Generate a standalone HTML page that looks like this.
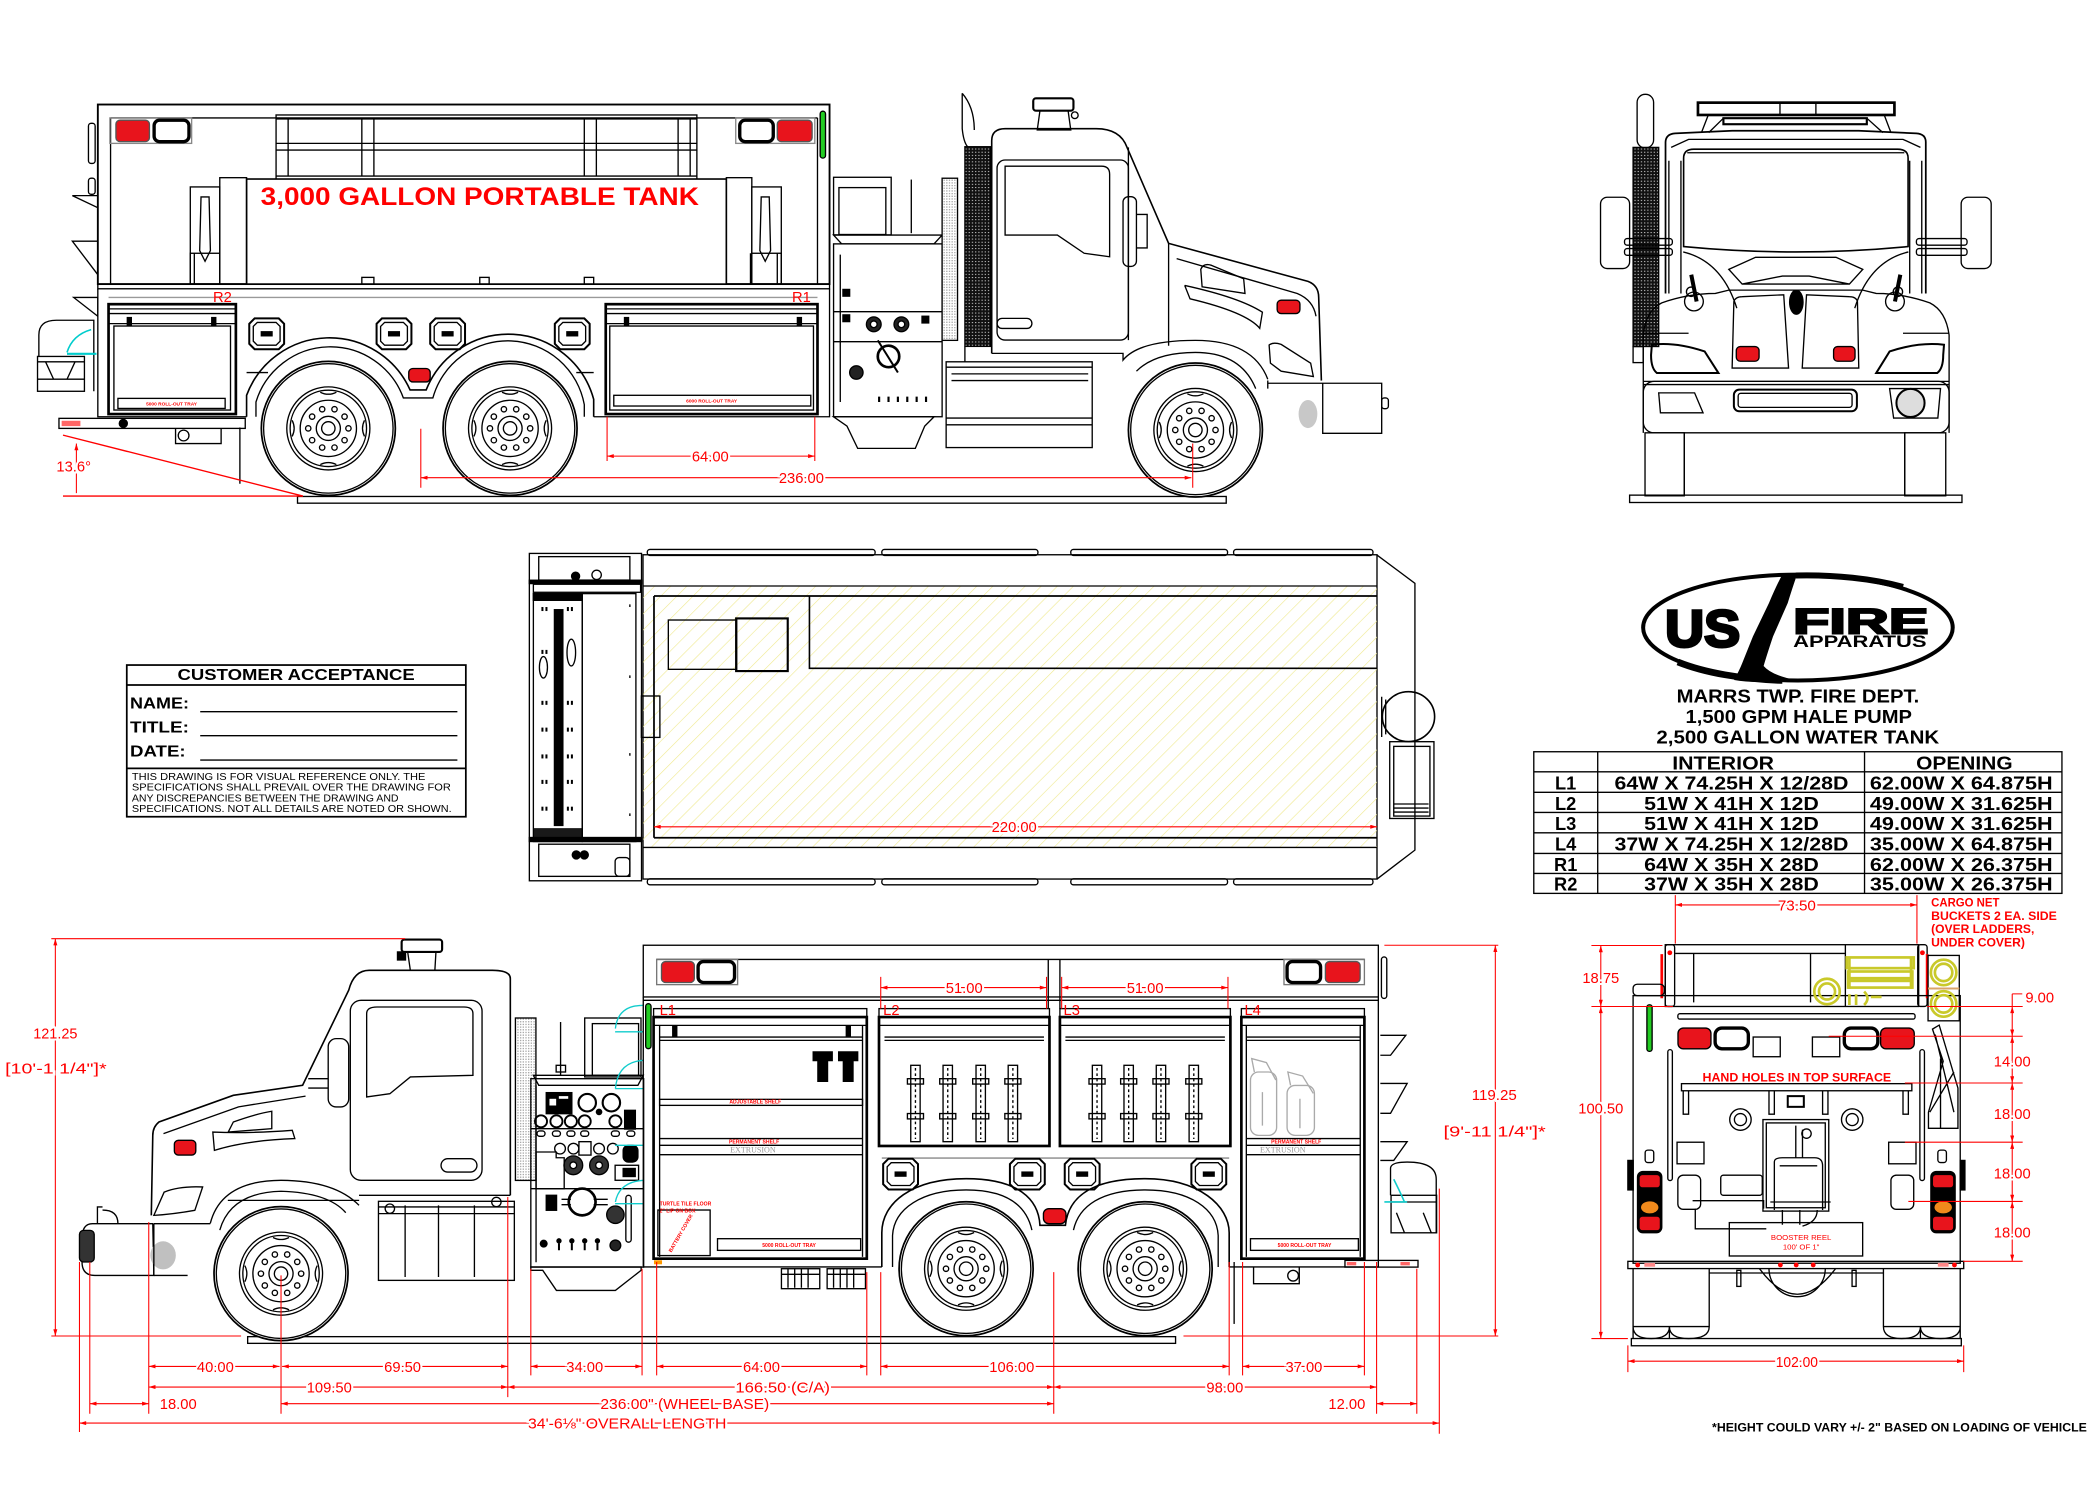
<!DOCTYPE html>
<html><head><meta charset="utf-8"><title>US Fire Apparatus - Marrs Twp. Fire Dept.</title>
<style>
html,body{margin:0;padding:0;background:#fff;width:2100px;height:1500px;overflow:hidden}
svg{display:block}
text{font-family:"Liberation Sans",Arial,sans-serif}
.k{fill:none;stroke:#000;stroke-width:1}
.r{fill:none;stroke:#f00;stroke-width:.8}
.d{fill:#f00;stroke:#fff;stroke-width:3px;paint-order:stroke;font-size:11px;text-anchor:middle}
.ds{fill:#f00;stroke:none;font-size:11px;text-anchor:middle}
.tb{font-weight:bold;fill:#000;stroke:none}
</style></head><body>
<svg width="2100" height="1500" viewBox="0 0 1567 1119.4" preserveAspectRatio="none" xmlns="http://www.w3.org/2000/svg">
<defs>
<marker id="a" viewBox="0 0 10 6" refX="10" refY="3" markerWidth="6" markerHeight="3" markerUnits="userSpaceOnUse" orient="auto-start-reverse"><path d="M0,0 L10,3 L0,6 z" fill="#f00"/></marker>
<pattern id="hatch" width="8.5" height="8.5" patternUnits="userSpaceOnUse" patternTransform="rotate(45)"><line x1="0" y1="0" x2="0" y2="8.5" stroke="#efe98f" stroke-width="0.9"/></pattern>
<pattern id="grill" width="2.4" height="2.4" patternUnits="userSpaceOnUse"><rect width="2.4" height="2.4" fill="#111"/><rect x="0.4" y="0.5" width="0.9" height="0.6" fill="#fff"/></pattern>
<pattern id="lt" width="2" height="2" patternUnits="userSpaceOnUse"><rect width="2" height="2" fill="#fff"/><rect width="1" height="1" fill="#aaa"/></pattern>
<g id="wh" class="k">
<circle r="50" fill="#fff" stroke-width="1.3"/><circle r="48.3"/>
<circle r="31"/><circle r="28.5"/><circle r="21"/>
<circle cx="15" cy="0" r="2"/><circle cx="12.1" cy="8.8" r="2"/><circle cx="4.6" cy="14.3" r="2"/><circle cx="-4.6" cy="14.3" r="2"/><circle cx="-12.1" cy="8.8" r="2"/><circle cx="-15" cy="0" r="2"/><circle cx="-12.1" cy="-8.8" r="2"/><circle cx="-4.6" cy="-14.3" r="2"/><circle cx="4.6" cy="-14.3" r="2"/><circle cx="12.1" cy="-8.8" r="2"/>
<circle r="9"/><circle r="5"/>
<path d="M-6,-27 Q0,-24 6,-27 M-6,27 Q0,24 6,27 M-27,-6 Q-24,0 -27,6 M27,-6 Q24,0 27,6"/>
</g>
<g id="hh" class="k">
<path d="M4,0 H22 L26,4 V19 L22,23 H4 L0,19 V4 Z" stroke-width="1.5" fill="#fff"/>
<path d="M6,3 H20 L23,6 V17 L20,20 H6 L3,17 V6 Z"/>
<rect x="9" y="10" width="8" height="3" fill="#000"/>
</g>
<g id="tool" class="k">
<rect x="-3.5" y="0" width="7" height="57"/>
<rect x="-6" y="10" width="12" height="4"/><rect x="-6" y="36" width="12" height="4"/>
<line x1="0" y1="2" x2="0" y2="55" stroke-dasharray="2 2"/>
</g>
</defs>

<!-- ===================== TOP SIDE VIEW (right side) ===================== -->
<g class="k">
<rect x="222" y="370.5" width="693" height="5"/>
<rect x="73" y="78" width="546" height="134" stroke-width="1.4"/>
<line x1="82.5" y1="88" x2="610" y2="88"/>
<line x1="82.5" y1="88" x2="82.5" y2="212"/>
<line x1="610" y1="88" x2="610" y2="212"/>
<rect x="73" y="212" width="546" height="3.5"/>
<rect x="66" y="92" width="5" height="30" rx="2"/><rect x="66" y="133" width="5" height="12" rx="2"/>
<path d="M54,146 H73 V155 Z"/><path d="M54,180 H73 V205 Z"/><path d="M55,222 H73 V236 Z"/>
<rect x="82" y="88" width="61" height="19" stroke="#888"/>
<rect x="86.5" y="89.7" width="25" height="16" rx="3" fill="#e8141c" stroke="#555"/>
<rect x="115" y="89.7" width="26" height="16" rx="4" stroke-width="2.5"/>
<rect x="549" y="88" width="59" height="19" stroke="#888"/>
<rect x="552" y="89.7" width="25" height="16" rx="4" stroke-width="2.5"/>
<rect x="580" y="89.7" width="26" height="16" rx="3" fill="#e8141c" stroke="#555"/>
<rect x="612" y="83" width="4" height="35" rx="2" fill="#2c2"/>
<rect x="206" y="85.8" width="314" height="48.5"/>
<path d="M206,88.8 H520 M206,107 H520 M206,112 H520 M206,131.4 H520"/>
<path d="M215,88.8 V131.4 M270,88.8 V131.4 M279,88.8 V131.4 M436,88.8 V131.4 M445,88.8 V131.4 M506,88.8 V131.4 M515,88.8 V131.4"/>
<rect x="184" y="133.6" width="358" height="78.4" stroke-width="1.2" fill="#fff"/>
<rect x="164" y="132.6" width="20" height="79.4"/><rect x="142" y="139.5" width="22" height="72.5"/>
<rect x="542" y="132.6" width="19" height="79.4"/><rect x="561" y="139.5" width="22" height="72.5"/>
<path d="M150,147 h6 l1,40 l-4,8 l-4,-8 z M568,147 h6 l1,40 l-4,8 l-4,-8 z"/>
<rect x="142" y="189" width="22" height="23"/><rect x="561" y="189" width="22" height="23"/>
<path d="M145,189 V212 M560,189 V212 M580,189 V212"/>
<rect x="270" y="207" width="9" height="5"/><rect x="358" y="207" width="7" height="5"/><rect x="436" y="207" width="7" height="5"/>
<path d="M73,215.5 V311 H184 M443,311 H619 V215.5"/>
<line x1="81" y1="222" x2="610" y2="222" stroke="#999"/>
<rect x="81" y="227" width="95" height="82" stroke-width="2"/>
<path d="M81,230.5 H176 M81,234 H176 M81,241.5 H176" />
<rect x="85" y="243.3" width="87" height="62.7"/>
<rect x="88" y="297.3" width="80" height="7.5"/>
<rect x="95" y="237" width="3" height="6" fill="#000"/><rect x="158" y="237" width="3" height="6" fill="#000"/>
<rect x="452" y="227" width="158" height="82" stroke-width="2"/>
<path d="M452,230.5 H610 M452,234 H610 M452,241.5 H610"/>
<rect x="455" y="243.3" width="152" height="62.7"/>
<rect x="458" y="295" width="147" height="8"/>
<rect x="466" y="237" width="3" height="6" fill="#000"/><rect x="595" y="237" width="3" height="6" fill="#000"/>
<use href="#hh" x="186" y="237.6"/><use href="#hh" x="281" y="237.6"/><use href="#hh" x="321" y="237.6"/><use href="#hh" x="414" y="237.6"/>
<path d="M184,311 V295 A66,66 0 0 1 306,291 H318 A66,66 0 0 1 443,298 V311" stroke-width="1.2"/>
<path d="M191,311 V300 A58,58 0 0 1 301,297 H323 A58,58 0 0 1 436,302 V311"/>
<path d="M184,278 H200 M430,278 H443"/>
<rect x="305" y="275" width="16" height="10" rx="3" fill="#e8141c"/>
<rect x="44" y="312.2" width="139" height="7.5"/>
<rect x="46" y="314" width="14" height="4" fill="#f66" stroke="none"/>
<circle cx="92" cy="316" r="3" fill="#000"/>
<path d="M131,319.7 V331 H165 V319.7"/><circle cx="137" cy="325" r="4"/>
<line x1="179" y1="319" x2="179" y2="361"/>
<path d="M29,266 V250 Q29,239 42,239 H70 V292"/>
<rect x="28" y="266" width="35" height="26"/>
<path d="M28,270 H63 M28,283 H63 M34,270 L40,283 M50,283 L56,270"/>
<path d="M50,263 Q54,250 68,246" stroke="#0cc" stroke-width="1.2"/>
<line x1="50" y1="264" x2="72" y2="264" stroke="#0cc" stroke-width="1.6"/>
<rect x="622" y="132.3" width="43" height="43"/>
<rect x="626" y="140" width="35" height="35"/>
<line x1="680" y1="134" x2="680" y2="174"/>
<path d="M622,175.4 H703 L697,182 H628 Z"/>
<rect x="622" y="182" width="81" height="129"/>
<path d="M622,232.6 H703 M622,255 H703 M627,190 V300"/>
<rect x="629" y="216" width="5" height="5" fill="#000"/><rect x="629" y="235" width="5" height="5" fill="#000"/>
<circle cx="652" cy="242" r="5.5" fill="#222"/><circle cx="652" cy="242" r="2.5" fill="#fff"/>
<circle cx="672.6" cy="242" r="5.5" fill="#222"/><circle cx="672.6" cy="242" r="2.5" fill="#fff"/>
<rect x="688" y="236" width="5" height="5" fill="#000"/>
<circle cx="663" cy="266" r="8" stroke-width="2"/><line x1="655" y1="254" x2="670" y2="278" stroke-width="1.5"/>
<circle cx="639" cy="278" r="5" fill="#222"/>
<path d="M656,296 v4 M663,296 v4 M670,296 v4 M677,296 v4 M684,296 v4 M691,296 v4" stroke-width="1.6"/>
<path d="M622,311 H697 L690,318 L683,334.6 H640 L632,318 Z"/>
<rect x="703" y="133" width="11.5" height="121" fill="url(#lt)"/>
<rect x="720" y="109.5" width="19" height="149" fill="url(#grill)"/>
<path d="M718,69.6 L718,96 Q719,106 722,109.5 M718,69.6 Q727,80 727,97"/>
<line x1="720" y1="258.7" x2="720" y2="270"/>
<path d="M740,263.7 V105 Q740,96 750,96 H818 Q836,96 841,110 L872,181.6 L976,210 Q984,213 984,222 L986,284" stroke-width="1.2"/>
<path d="M842,110 V253.8 M872,181.6 V258"/>
<path d="M878,193 L968,219 Q980,224 982,236"/>
<rect x="744" y="119.4" width="98" height="134.4" rx="6"/>
<path d="M750,124 H822 Q828,124 828,130 V191.6 L809,189 L789,175.4 H750 Z"/>
<rect x="838" y="146.8" width="10" height="52" rx="4"/><path d="M848,160 H856 V185 H848"/>
<rect x="744" y="237.6" width="26" height="7.5" rx="3.7"/>
<path d="M896,201 Q898,196 904,198 L928,208 L929,219 L897,214 Z"/>
<path d="M884,213 L888,223 Q930,233 940,245 L942,233 Q925,222 884,213"/>
<rect x="953" y="224" width="17" height="10" rx="3" fill="#e8141c"/>
<path d="M947,257.5 Q950,255 956,257 L978,271 L980,281 L956,277 L948,271 Z"/>
<path d="M740,263.7 H838 V268.7 Q850,254 892,254 Q935,254 946,283"/>
<path d="M848,277 Q862,263 892,263 Q926,263 937,290"/>
<rect x="706" y="270" width="109" height="64"/>
<path d="M706,274 H815 M710,279 H812 M710,284 H812 M706,312 H815 M706,317 H815"/>
<path d="M946,284 V290 M946,286 H1031 V323.4 H987 V286"/>
<rect x="1031" y="297" width="5" height="8" rx="2"/>
<ellipse cx="976" cy="309" rx="7" ry="10.5" fill="#c8c8c8" stroke="none"/>
<rect x="771" y="73.4" width="30" height="9.2" rx="2" stroke-width="1.6"/>
<path d="M776,82.6 H797 L799,97 H774 Z"/><circle cx="802" cy="86" r="2.5"/>
</g>
<use href="#wh" x="245" y="319.7"/>
<use href="#wh" x="380.6" y="319.7"/>
<use href="#wh" x="892" y="320.9"/>
<text x="358" y="153" font-size="18.5" font-weight="bold" fill="#f00" text-anchor="middle" textLength="327" lengthAdjust="spacingAndGlyphs">3,000 GALLON PORTABLE TANK</text>
<text x="166" y="225.2" fill="#f00" font-size="11" text-anchor="middle">R2</text>
<text x="598" y="225.2" fill="#f00" font-size="11" text-anchor="middle">R1</text>
<text x="128" y="302.5" fill="#f00" font-size="3.6" font-weight="bold" text-anchor="middle">5000 ROLL-OUT TRAY</text>
<text x="531" y="300.5" fill="#f00" font-size="3.6" font-weight="bold" text-anchor="middle">6000 ROLL-OUT TRAY</text>
<g class="r">
<line x1="47" y1="324.7" x2="226" y2="370.2" stroke-width="1"/>
<line x1="47" y1="370.2" x2="226" y2="370.2" stroke-width="1"/>
<line x1="57" y1="331" x2="57" y2="368" marker-start="url(#a)"/>
<path d="M453,311 V344 M608,311 V344 M314,320 V364 M890,331 V364"/>
<line x1="453" y1="340.4" x2="608" y2="340.4" marker-start="url(#a)" marker-end="url(#a)"/>
<line x1="314" y1="356.5" x2="889" y2="356.5" marker-start="url(#a)" marker-end="url(#a)"/>
</g>
<text class="d" x="55" y="352" font-size="10">13.6°</text>
<text class="d" x="530" y="344.4">64.00</text>
<text class="d" x="598" y="360.5">236.00</text>

<!-- ===================== FRONT VIEW ===================== -->
<g class="k">
<rect x="1216" y="369.5" width="248" height="5.5"/>
<rect x="1267" y="76.6" width="146.6" height="9.2" stroke-width="2"/>
<path d="M1328.2,76.6 V85.8 M1355,76.6 V85.8"/>
<rect x="1286" y="88.2" width="107" height="4.5" stroke-width="1.6"/>
<path d="M1274.7,85.8 L1269.6,99 M1286,88.2 L1275,99 M1406,85.8 L1411,99 M1393,88.2 L1405,99"/>
<path d="M1242.8,219 V106 Q1243,100 1250,99.5 L1292.5,97.6 H1387 L1430,99.5 Q1437,100 1437,106 V219" stroke-width="1.3"/>
<path d="M1247,110 L1260,104 H1420 L1433,110"/>
<path d="M1256.3,184 V118 Q1256.3,111.3 1264,111.3 H1416 Q1423.8,111.3 1423.8,118 V184 Q1340,192 1256.3,184 Z" stroke-width="1.2"/>
<path d="M1259,114 H1421"/>
<path d="M1245.3,120 V219 M1254.3,120 V219 M1425,120 V219 M1434,120 V219"/>
<rect x="1221.6" y="70.4" width="12.3" height="40" rx="6"/>
<rect x="1218.6" y="110" width="19.1" height="148.6" fill="url(#grill)"/>
<rect x="1218.6" y="258.6" width="7.5" height="12"/>
<rect x="1194.3" y="147.2" width="21.7" height="53.2" rx="5"/>
<rect x="1463.4" y="147.2" width="22.4" height="53.2" rx="5"/>
<rect x="1212.2" y="178" width="35.7" height="5" rx="2"/><rect x="1212.2" y="185.5" width="35.7" height="5" rx="2"/>
<rect x="1430" y="178" width="37.8" height="5" rx="2"/><rect x="1430" y="185.5" width="37.8" height="5" rx="2"/>
<path d="M1226.2,323 V250 Q1228,232 1240,226 Q1260,219 1280,219 L1290,216.5 H1390 L1400,219 Q1420,219 1440,226 Q1452,232 1454.4,250 V323"/>
<path d="M1256,188 Q1285,195 1296,230 M1424,188 Q1395,195 1384,230"/>
<path d="M1290,201 L1310,192 H1370 L1390,201 L1380,212 H1300 Z M1300,212 L1330,206 H1350 L1380,212"/>
<path d="M1292.5,274.7 L1293.8,225 Q1295,221.4 1300,221.4 L1331,220 L1334.6,274.7 Z"/>
<path d="M1344.8,274.7 L1348,220 L1380,221.4 Q1385,221.4 1386,225 L1387,274.7 Z"/>
<ellipse cx="1340.4" cy="225.5" rx="5" ry="9" fill="#000"/>
<rect x="1295.6" y="258.6" width="17" height="11" rx="3" fill="#e8141c"/>
<rect x="1368.2" y="258.6" width="16" height="11" rx="3" fill="#e8141c"/>
<path d="M1232.6,257.3 Q1250,255 1272,262.3 L1282.3,278.4 H1236.4 Q1232,275 1232,265 Z" stroke-width="1.5"/>
<path d="M1450.6,257.3 Q1432,255 1410,262.3 L1400,278.4 H1445.5 Q1450,275 1450,265 Z" stroke-width="1.5"/>
<path d="M1226.2,248.7 H1260 M1420,248.7 H1454.4 M1226,284.6 H1454.4"/>
<rect x="1226.2" y="284.6" width="228.2" height="38.4" rx="8"/>
<path d="M1226.2,287 H1454.4"/>
<rect x="1293.8" y="290.8" width="91.8" height="16.1" rx="4" stroke-width="1.5"/>
<rect x="1297" y="293.5" width="85" height="10.5" rx="2"/>
<path d="M1237.7,293.2 H1264.5 L1270.8,308.1 H1239 Z"/>
<path d="M1410,290 H1448 L1446,312 H1413 Z"/>
<circle cx="1425.6" cy="300.7" r="10.5" fill="#ddd" stroke-width="1.5"/>
<circle cx="1261.9" cy="217.7" r="3.5"/><circle cx="1264" cy="225" r="7"/>
<circle cx="1416.2" cy="217.7" r="3.5"/><circle cx="1414" cy="225" r="7"/>
<path d="M1262,205 L1266,225 M1418,205 L1414,225" stroke-width="3"/>
<rect x="1227.5" y="323" width="29.3" height="47"/>
<rect x="1421.3" y="323" width="30.6" height="47"/>
<path d="M1256.8,323 V370 M1421.3,323 V370"/>
</g>

<!-- ===================== CUSTOMER ACCEPTANCE ===================== -->
<g class="k">
<rect x="94.6" y="496.3" width="253" height="113.2" stroke-width="1.3"/>
<line x1="94.6" y1="511.2" x2="347.6" y2="511.2" stroke-width="1.3"/>
<line x1="94.6" y1="573.4" x2="347.6" y2="573.4" stroke-width="1.3"/>
<line x1="149.4" y1="531.1" x2="341.3" y2="531.1"/>
<line x1="149.4" y1="549" x2="341.3" y2="549"/>
<line x1="149.4" y1="567.2" x2="341.3" y2="567.2"/>
</g>
<text class="tb" x="221" y="507.5" font-size="11.5" text-anchor="middle" textLength="177" lengthAdjust="spacingAndGlyphs">CUSTOMER ACCEPTANCE</text>
<text class="tb" x="97" y="528.6" font-size="12" textLength="44" lengthAdjust="spacingAndGlyphs">NAME:</text>
<text class="tb" x="97" y="546.6" font-size="12" textLength="44" lengthAdjust="spacingAndGlyphs">TITLE:</text>
<text class="tb" x="97" y="564.7" font-size="12" textLength="41.5" lengthAdjust="spacingAndGlyphs">DATE:</text>
<g font-size="7.8" fill="#000">
<text x="98.4" y="582.1" textLength="219" lengthAdjust="spacingAndGlyphs">THIS DRAWING IS FOR VISUAL REFERENCE ONLY. THE</text>
<text x="98.4" y="590" textLength="238" lengthAdjust="spacingAndGlyphs">SPECIFICATIONS SHALL PREVAIL OVER THE DRAWING FOR</text>
<text x="98.4" y="598" textLength="199" lengthAdjust="spacingAndGlyphs">ANY DISCREPANCIES BETWEEN THE DRAWING AND</text>
<text x="98.4" y="606" textLength="238.6" lengthAdjust="spacingAndGlyphs">SPECIFICATIONS. NOT ALL DETAILS ARE NOTED OR SHOWN.</text>
</g>

<!-- ===================== TOP (PLAN) VIEW ===================== -->
<g class="k">
<rect x="395" y="413" width="83.7" height="244.3"/>
<rect x="402" y="415.4" width="68" height="17.5"/>
<rect x="395" y="433" width="83.7" height="2.5" fill="#000"/>
<circle cx="429.5" cy="430" r="3" fill="#000"/><circle cx="445.2" cy="429" r="3.5"/>
<rect x="398" y="436" width="80" height="6"/>
<rect x="398" y="443" width="36.5" height="185"/>
<rect x="398" y="443" width="36.5" height="5" fill="#000"/>
<rect x="413.7" y="455" width="6.3" height="161" fill="#000"/>
<rect x="434.5" y="443" width="40" height="185"/>
<rect x="395" y="625" width="83.7" height="3" fill="#000"/>
<rect x="398" y="618" width="36.5" height="7" fill="#000" stroke="none" opacity=".9"/>
<rect x="402" y="630" width="68" height="24"/>
<circle cx="430" cy="638" r="3" fill="#000"/><circle cx="436" cy="638" r="3" fill="#000"/>
<rect x="459" y="640" width="11" height="14" rx="3"/>
<ellipse cx="405.5" cy="498" rx="3" ry="8"/><ellipse cx="426.3" cy="487" rx="3.2" ry="10"/>
<path d="M434.5,445 V626 M470,451 v2 M470,504 v2 M470,562 v2 M470,607 v2"/>
<rect x="479.8" y="414" width="547.7" height="242"/>
<rect x="483" y="410" width="170" height="4.5" rx="2"/><rect x="658" y="410" width="116.5" height="4.5" rx="2"/><rect x="799" y="410" width="117" height="4.5" rx="2"/><rect x="920.5" y="410" width="104" height="4.5" rx="2"/>
<rect x="483" y="655.8" width="170" height="4.5" rx="2"/><rect x="658" y="655.8" width="116.5" height="4.5" rx="2"/><rect x="799" y="655.8" width="117" height="4.5" rx="2"/><rect x="920.5" y="655.8" width="104" height="4.5" rx="2"/>
<rect x="479.8" y="437.3" width="547.7" height="195.1" fill="url(#hatch)" stroke="none"/>
<path d="M479.8,437.3 H1027.5 M479.8,632.4 H1027.5"/>
<path d="M488,444.8 H1027.5 M488,625.2 H1027.5 M488,444.8 V625.2" stroke-width="1.3"/>
<path d="M604,444.8 V498.7 H1027.5" stroke-width="1.2"/>
<rect x="498.7" y="462.7" width="51" height="36.8"/>
<rect x="549.3" y="461.5" width="38.5" height="39.3" stroke-width="1.6"/>
<rect x="478.6" y="519.4" width="13.8" height="30.9"/>
<path d="M1027.5,414.2 L1055.8,435.3 V634.4 L1027.5,656"/>
<ellipse cx="1051" cy="534.8" rx="19.5" ry="18.6" stroke-width="1.2"/>
<rect x="1037" y="553.5" width="33" height="57.3"/><rect x="1040" y="557" width="27" height="52"/>
<path d="M1031,520 V550 M1034,522 V548"/>
<path d="M1040,600 H1066 M1040,603 H1066 M1040,606 H1066"/>
</g>
<g fill="#000">
<rect x="404" y="453" width="1.5" height="3"/><rect x="407" y="453" width="1.5" height="3"/><rect x="423" y="453" width="1.5" height="3"/><rect x="426" y="453" width="1.5" height="3"/>
<rect x="404" y="485" width="1.5" height="3"/><rect x="407" y="485" width="1.5" height="3"/>
<rect x="404" y="523" width="1.5" height="3"/><rect x="407" y="523" width="1.5" height="3"/><rect x="423" y="523" width="1.5" height="3"/><rect x="426" y="523" width="1.5" height="3"/>
<rect x="404" y="543" width="1.5" height="3"/><rect x="407" y="543" width="1.5" height="3"/><rect x="423" y="543" width="1.5" height="3"/><rect x="426" y="543" width="1.5" height="3"/>
<rect x="404" y="563" width="1.5" height="3"/><rect x="407" y="563" width="1.5" height="3"/><rect x="423" y="563" width="1.5" height="3"/><rect x="426" y="563" width="1.5" height="3"/>
<rect x="404" y="582" width="1.5" height="3"/><rect x="407" y="582" width="1.5" height="3"/><rect x="423" y="582" width="1.5" height="3"/><rect x="426" y="582" width="1.5" height="3"/>
<rect x="404" y="602" width="1.5" height="3"/><rect x="407" y="602" width="1.5" height="3"/><rect x="423" y="602" width="1.5" height="3"/><rect x="426" y="602" width="1.5" height="3"/>
</g>
<line class="r" x1="488" y1="617" x2="1027.5" y2="617" marker-start="url(#a)" marker-end="url(#a)"/>
<text class="d" x="756.8" y="621">220.00</text>

<!-- ===================== LOGO ===================== -->
<ellipse cx="1341.6" cy="468.3" rx="115.5" ry="39.5" fill="none" stroke="#000" stroke-width="3"/>
<path d="M1252,494 A115.5,39.5 0 0 0 1330,507.8" fill="none" stroke="#000" stroke-width="5"/>
<path d="M1340,429.5 A115.5,39.5 0 0 1 1420,438" fill="none" stroke="#000" stroke-width="4.5"/>
<path d="M1330,428.6 L1341,428.6 Q1337,440 1334,450 L1323,475 Q1318,490 1316,497 Q1322,504 1340,507.5 Q1310,510.5 1294,507.5 Q1298,500 1300,495 L1308,475 L1320,450 Q1325,438 1330,428.6 Z" fill="#000"/>
<text x="1242.5" y="482.6" font-size="39" font-weight="bold" fill="#000" stroke="#000" stroke-width="2.2" textLength="56" lengthAdjust="spacingAndGlyphs">US</text>
<text x="1338" y="472.7" font-size="26" font-weight="bold" fill="#000" stroke="#000" stroke-width="1.4" textLength="101" lengthAdjust="spacingAndGlyphs">FIRE</text>
<text x="1338" y="483" font-size="12.5" font-weight="bold" fill="#000" textLength="99.6" lengthAdjust="spacingAndGlyphs">APPARATUS</text>
<g class="tb" font-size="13.8" text-anchor="middle">
<text x="1341.6" y="524.4" textLength="181" lengthAdjust="spacingAndGlyphs">MARRS TWP. FIRE DEPT.</text>
<text x="1342.2" y="539.4" textLength="169" lengthAdjust="spacingAndGlyphs">1,500 GPM HALE PUMP</text>
<text x="1341.5" y="554.8" textLength="211" lengthAdjust="spacingAndGlyphs">2,500 GALLON WATER TANK</text>
</g>
<g class="k" stroke-width="1.3">
<rect x="1144.5" y="561" width="394.1" height="105.7"/>
<path d="M1144.5,576 H1538.6 M1144.5,591.3 H1538.6 M1144.5,606.3 H1538.6 M1144.5,621.5 H1538.6 M1144.5,636.9 H1538.6 M1144.5,651.8 H1538.6 M1192.2,561 V666.7 M1391.3,561 V666.7"/>
</g>
<g class="tb" font-size="13.6" text-anchor="middle">
<text x="1285.8" y="574.2" textLength="76" lengthAdjust="spacingAndGlyphs">INTERIOR</text>
<text x="1465.8" y="574.2" textLength="72" lengthAdjust="spacingAndGlyphs">OPENING</text>
<text x="1168.3" y="589.3">L1</text><text x="1168.3" y="604.4">L2</text><text x="1168.3" y="619.5">L3</text><text x="1168.3" y="634.8">L4</text><text x="1168.3" y="649.9">R1</text><text x="1168.3" y="664.7">R2</text>
<text x="1292" y="589.3" textLength="174.5" lengthAdjust="spacingAndGlyphs">64W X 74.25H X 12/28D</text>
<text x="1292" y="604.4" textLength="130.4" lengthAdjust="spacingAndGlyphs">51W X 41H X 12D</text>
<text x="1292" y="619.5" textLength="130.4" lengthAdjust="spacingAndGlyphs">51W X 41H X 12D</text>
<text x="1292" y="634.8" textLength="174.5" lengthAdjust="spacingAndGlyphs">37W X 74.25H X 12/28D</text>
<text x="1292" y="649.9" textLength="130.4" lengthAdjust="spacingAndGlyphs">64W X 35H X 28D</text>
<text x="1292" y="664.7" textLength="130.4" lengthAdjust="spacingAndGlyphs">37W X 35H X 28D</text>
<text x="1463.5" y="589.3" textLength="136.4" lengthAdjust="spacingAndGlyphs">62.00W X 64.875H</text>
<text x="1463.5" y="604.4" textLength="136.4" lengthAdjust="spacingAndGlyphs">49.00W X 31.625H</text>
<text x="1463.5" y="619.5" textLength="136.4" lengthAdjust="spacingAndGlyphs">49.00W X 31.625H</text>
<text x="1463.5" y="634.8" textLength="136.4" lengthAdjust="spacingAndGlyphs">35.00W X 64.875H</text>
<text x="1463.5" y="649.9" textLength="136.4" lengthAdjust="spacingAndGlyphs">62.00W X 26.375H</text>
<text x="1463.5" y="664.7" textLength="136.4" lengthAdjust="spacingAndGlyphs">35.00W X 26.375H</text>
</g>

<!-- ===================== BOTTOM SIDE VIEW (left side) ===================== -->
<g class="k">
<rect x="184.8" y="997.5" width="692.4" height="5"/>
<rect x="299.7" y="701.2" width="30.2" height="9.2" rx="2" stroke-width="1.6"/>
<path d="M304.2,710.4 H325.3 L324.5,724.1 H306.2 Z"/>
<rect x="296.6" y="710.4" width="6" height="6" fill="#000"/>
<path d="M380.8,892 V730.3 Q380.8,724.1 367.4,724.1 H275.5 Q264,724.1 260.2,739 L225.8,809.9 L174.1,817.4 L118.6,837.3 Q114,841 114,847.3 L112.9,907" stroke-width="1.2"/>
<path d="M228,818 L178,826 L122,846"/>
<path d="M267.9,892 H380.8"/>
<rect x="261.4" y="746.5" width="98.3" height="134.3" rx="8"/>
<path d="M273.6,818.6 V756.4 Q273.6,751.5 281.3,751.5 H346.3 Q352.9,751.5 352.9,756.4 V802.5 L306.2,803.7 L290.9,816.2 Z"/>
<rect x="244.9" y="775.1" width="15.3" height="51" rx="6"/>
<path d="M230,805 H245 M230,812 H245"/>
<rect x="329.1" y="864.7" width="26.8" height="10" rx="5"/>
<path d="M170.3,844.8 L174.1,837.3 Q191.4,831.1 202.8,829.3 V842.3 Z"/>
<path d="M158.8,844.8 L160,858.5 Q183.7,851 220,849.7 L218.1,843.5 Q185,846 158.8,844.8 Z"/>
<rect x="130.1" y="851" width="16" height="11" rx="3" fill="#e8141c"/>
<path d="M114.8,907 L122.5,889.6 Q134,885 151.2,885.8 L145.4,903.2 Q130,906 114.8,907 Z"/>
<path d="M156.9,913 Q165,881 209.7,880.8 Q250,881 267.9,899.5"/>
<path d="M164,918 Q172,890 209.7,889 Q245,890 258,905"/>
<path d="M170,895.8 H268"/>
<path d="M114,913.2 H68.9 Q61.2,913.2 61.2,924.4 V941.8 Q61.2,951.8 70.8,951.8 H114.8 Z M114.8,913.2 H156.9"/>
<rect x="59.3" y="918.2" width="11" height="23.6" rx="3" fill="#333"/>
<path d="M72.7,913 V900.7 H76.5 M76.5,903 Q88,903 88,913.2"/>
<ellipse cx="121.7" cy="936.8" rx="9.5" ry="10.5" fill="#c0c0c0" stroke="none"/>
<path d="M114.8,951.8 L140,951.8 M114.8,913.2 V951.8"/>
<rect x="282.4" y="896.5" width="101.4" height="59"/>
<path d="M302.3,899.5 V953 M327.2,899.5 V953 M354,899.5 V953 M282.4,900.7 H383.8 M282.4,905.7 H383.8"/>
<circle cx="290.9" cy="902" r="3.5"/><circle cx="370.4" cy="897" r="3.5"/>
<rect x="384.6" y="759.7" width="15.3" height="121.2" fill="url(#lt)"/>
<rect x="436.3" y="759.7" width="42" height="44"/>
<rect x="442" y="763.9" width="34.5" height="38.6"/>
<line x1="418.3" y1="762.7" x2="418.3" y2="802.5"/><rect x="415" y="795" width="7" height="5"/>
<path d="M398,802.5 H480 L476,809.9 H402 Z"/>
<rect x="396.1" y="805" width="84.2" height="140.6"/>
<path d="M396.1,842.3 H480 M396.1,887.1 H480 M400,809.9 V942"/>
<rect x="407.6" y="815.4" width="19.1" height="15.7" fill="#000"/>
<rect x="410" y="820" width="5" height="5" fill="#fff" stroke="none"/><rect x="417" y="818" width="7" height="2" fill="#fff" stroke="none"/>
<circle cx="438.2" cy="822.9" r="6.5" stroke-width="1.6"/><circle cx="456.2" cy="822.9" r="6.5" stroke-width="1.6"/>
<circle cx="447" cy="829.8" r="2" fill="#000"/>
<rect x="466.1" y="828.6" width="8" height="14" fill="#000"/>
<circle cx="403.7" cy="836.8" r="4.5" stroke-width="1.4"/><circle cx="415.2" cy="836.8" r="4.5" stroke-width="1.4"/><circle cx="426" cy="836.8" r="4.5" stroke-width="1.4"/><circle cx="436.3" cy="836.8" r="4.5" stroke-width="1.4"/><circle cx="459.2" cy="836.8" r="4.5" stroke-width="1.4"/>
<rect x="400.7" y="844" width="6" height="4" rx="2"/><rect x="412.2" y="844" width="6" height="4" rx="2"/><rect x="423" y="844" width="6" height="4" rx="2"/><rect x="433.3" y="844" width="6" height="4" rx="2"/><rect x="456.2" y="844" width="6" height="4" rx="2"/><rect x="467.7" y="844" width="6" height="4" rx="2"/>
<circle cx="417.9" cy="857.2" r="4"/><circle cx="427.9" cy="857.2" r="4"/><circle cx="447" cy="857.2" r="4"/><circle cx="457.3" cy="857.2" r="4"/>
<rect x="432" y="852" width="9" height="10"/>
<circle cx="427.8" cy="869.6" r="7" fill="#333"/><circle cx="427.8" cy="869.6" r="2.5" fill="#fff"/>
<circle cx="447" cy="869.6" r="7" fill="#333"/><circle cx="447" cy="869.6" r="2.5" fill="#fff"/>
<path d="M400,859.7 H415 V864 H421 V887.1 H400 Z"/>
<rect x="465" y="854.7" width="11" height="12.5" rx="4" fill="#000"/>
<rect x="459" y="869.6" width="17.5" height="11.2"/><rect x="465" y="872" width="9" height="6" fill="#000"/>
<circle cx="434.4" cy="897" r="10" stroke-width="2"/><path d="M419,895 H426 M443,895 H453.5 M419,899 H426 M443,899 H453.5"/>
<rect x="407.6" y="892" width="7.7" height="11.2" fill="#000"/>
<circle cx="459.2" cy="906.5" r="6.5" fill="#333"/>
<rect x="467" y="892" width="4" height="35" rx="2"/>
<circle cx="405.7" cy="928.1" r="2.5" fill="#000"/><circle cx="417.1" cy="926" r="1.5" fill="#000"/><circle cx="426.7" cy="926" r="1.5" fill="#000"/><circle cx="436.3" cy="926" r="1.5" fill="#000"/><circle cx="445.8" cy="926" r="1.5" fill="#000"/>
<path d="M417.1,928 v5 M426.7,928 v5 M436.3,928 v5 M445.8,928 v5" stroke-width="1.5"/>
<circle cx="459.2" cy="929.4" r="4" fill="#222"/>
<path d="M396.1,945.5 H478.4 V948 L459.2,963 H415.2 L405,948 H396.1 Z"/>
<path d="M459.2,767.6 Q461,750.2 480.3,750.2 M459.2,812.4 Q461,792.5 480,791.3 M459.2,897 Q462,882 480,880.8 M459,770 H480 M459,812.4 H480 M459,854.7 H480 M459,898.3 H480" stroke="#1cc" stroke-width="1"/>
<rect x="480" y="705.4" width="548.5" height="38.6"/>
<path d="M480,746.5 H1028.5 M490,716 H1018"/>
<path d="M480,744 V945.5 H658 M917.2,945.5 H1028.5 V744"/>
<path d="M782.2,716 V752.7 M790.9,716 V752.7"/>
<rect x="490" y="715.9" width="60.4" height="18.9" stroke="#777"/>
<rect x="493.6" y="717.6" width="24.5" height="15.6" rx="3" fill="#e8141c" stroke="#555"/>
<rect x="520.9" y="717.6" width="27.2" height="15.6" rx="4" stroke-width="2.5"/>
<rect x="958.1" y="715.9" width="60" height="18.9" stroke="#777"/>
<rect x="960.4" y="717.6" width="25" height="15.6" rx="4" stroke-width="2.5"/>
<rect x="989" y="717.6" width="25.9" height="15.6" rx="3" fill="#e8141c" stroke="#555"/>
<rect x="481.8" y="749" width="4" height="33.6" rx="2" fill="#2c2"/>
<rect x="487.7" y="752.7" width="159.1" height="6.3"/>
<rect x="487.7" y="759" width="159.1" height="180.3" stroke-width="2"/>
<path d="M487.7,765.2 H646.8 M492.2,773.9 H643.6 M492.2,776.4 H643.6 M492.2,765 V938 M643.6,765 V938" />
<rect x="502" y="766" width="3" height="7" fill="#000"/><rect x="631.5" y="766" width="3" height="7" fill="#000"/>
<rect x="655.9" y="752.7" width="127.2" height="6.3"/>
<rect x="655.9" y="759" width="127.2" height="96.2" stroke-width="2"/>
<path d="M655.9,765.2 H783.1 M660,773.9 H779 M660,776.4 H779"/>
<rect x="790.9" y="752.7" width="127.2" height="6.3"/>
<rect x="790.9" y="759" width="127.2" height="96.2" stroke-width="2"/>
<path d="M790.9,765.2 H918.1 M795,773.9 H914 M795,776.4 H914"/>
<rect x="926.3" y="752.7" width="91.8" height="6.3"/>
<rect x="926.3" y="759" width="91.8" height="180.3" stroke-width="2"/>
<path d="M926.3,765.2 H1018.1 M930,773.9 H1015 M930,776.4 H1015 M930,765 V938 M1015,765 V938"/>
<path d="M606.8,785 H621 V791.5 H617.5 V807 H610.3 V791.5 H606.8 Z" fill="#000"/>
<path d="M625.8,785 H640 V791.5 H636.5 V807 H629.3 V791.5 H625.8 Z" fill="#000"/>
<rect x="492.2" y="820.4" width="151.4" height="4.5"/>
<path d="M492.2,849.7 H643.6 M492.2,854.7 H643.6 M492.2,861.7 H643.6"/>
<rect x="490.9" y="903" width="39" height="34"/>
<rect x="535.4" y="924.4" width="106.8" height="8.7"/>
<path d="M930,849.7 H1015 M930,854.7 H1015 M930,861.7 H1015"/>
<rect x="933.1" y="924.4" width="80.5" height="8.7"/>
<g stroke="#aaa">
<rect x="933.1" y="800" width="19.5" height="47.3" rx="6"/><path d="M936,800 L934,790 L945,793 L952,806"/>
<rect x="960.4" y="810" width="20.4" height="37.3" rx="6"/><path d="M963,810 L961,800 L972,803 L980,816"/>
<path d="M942,815 V840 M970,820 V842"/>
</g>
<use href="#tool" x="683.1" y="795"/><use href="#tool" x="707.2" y="795"/><use href="#tool" x="731.8" y="795"/><use href="#tool" x="755.8" y="795"/>
<use href="#tool" x="818.6" y="795"/><use href="#tool" x="842.2" y="795"/><use href="#tool" x="866.3" y="795"/><use href="#tool" x="890.8" y="795"/>
<path d="M658,864.2 H917.2" stroke="#888"/>
<use href="#hh" x="659" y="864.7"/><use href="#hh" x="753.6" y="864.7"/><use href="#hh" x="794.5" y="864.7"/><use href="#hh" x="889" y="864.7"/>
<path d="M658,945.5 V920 C658,898 680,879.6 720.9,879.6 C760,879.6 775,895 776,914.4 H795 C797,895 812,879.6 854.5,879.6 C895,879.6 917.2,900 917.2,920 V945.5" stroke-width="1.2"/>
<path d="M666,945.5 V922 C667,902 688,888 720.9,888 C752,888 766,900 770,918 M801,918 C805,900 822,888 854.5,888 C888,888 908,902 909,922 V945.5"/>
<rect x="778.6" y="902" width="16.8" height="11.2" rx="4" fill="#e8141c"/>
<rect x="583.1" y="946.8" width="28.6" height="14.9"/><path d="M588,947 V961 M593,947 V961 M598,947 V961 M603,947 V961 M583,951 H611.7"/>
<rect x="617.2" y="946.8" width="28.6" height="14.9"/><path d="M622,947 V961 M627,947 V961 M632,947 V961 M637,947 V961 M617,951 H645.8"/>
<path d="M935.4,945.5 V958 H969.5 V945.5"/><circle cx="964.9" cy="952" r="4"/>
<line x1="920.9" y1="941.8" x2="920.9" y2="988"/>
<rect x="1003.6" y="940.6" width="54.5" height="5"/>
<rect x="1030.8" y="714.1" width="4" height="31" rx="2"/>
<path d="M1030,772.6 H1049 L1037.6,787.5 H1030"/>
<path d="M1030,808.5 H1050 L1037.6,830.8 H1030"/>
<path d="M1030,852 H1050 L1040,866 H1030"/>
<path d="M1037.6,892 V872 Q1037.6,867.2 1050,867.2 Q1071.7,867.2 1071.7,880 V920"/>
<rect x="1038" y="892" width="34" height="28"/><path d="M1038,897 H1072 M1042,905 L1048,920 M1062,905 L1068,920"/>
</g>
<path d="M1033,897 H1050 M1040,880 Q1045,890 1048,897" stroke="#1cc" fill="none" stroke-width="1.2"/>
<rect x="488" y="940.5" width="6" height="3" fill="#f90"/>
<rect x="1005" y="941.8" width="7" height="2.5" fill="#f66"/><rect x="1045" y="941.8" width="7" height="2.5" fill="#f66"/>
<use href="#wh" x="209.7" y="950.5"/>
<use href="#wh" x="720.9" y="946.8"/>
<use href="#wh" x="854.5" y="946.8"/>
<g fill="#f00" font-size="11">
<text x="492.2" y="757.5">L1</text><text x="659" y="757.5">L2</text><text x="793.6" y="757.5">L3</text><text x="928.6" y="757.5">L4</text>
</g>
<g fill="#f00" font-size="3.8" font-weight="bold" text-anchor="middle">
<text x="563.6" y="823.6">ADJUSTABLE SHELF</text>
<text x="562.7" y="853.2">PERMANENT SHELF</text>
<text x="967.2" y="853.2">PERMANENT SHELF</text>
<text x="588.8" y="930.5">5000 ROLL-OUT TRAY</text>
<text x="973.4" y="930.5">5000 ROLL-OUT TRAY</text>
<text x="492.2" y="899.5" text-anchor="start">TURTLE TILE FLOOR</text>
<text x="492.2" y="905" text-anchor="start">2" LIP ON BOX</text>
<text x="509" y="921" transform="rotate(-60 509 921)">BATTERY COVER</text>
</g>
<g fill="#999" font-size="6" text-anchor="middle">
<text x="561.8" y="860.2" style="font-family:'Liberation Serif',serif">EXTRUSION</text>
<text x="957.2" y="860.2" style="font-family:'Liberation Serif',serif">EXTRUSION</text>
</g>
<g class="r">
<path d="M59.3,941.8 V1068.7 M67,941.8 V1055 M111,912 V1055 M209.7,951.8 V1055 M378.9,893.3 V1042.6 M396.1,946.8 V1026.4 M479.1,946.8 V1026.4 M490,941.8 V1026.4 M646.8,949.3 V1026.4 M657.2,949.3 V1026.4 M786.3,949.3 V1055 M917.2,941.8 V1026.4 M927.2,941.8 V1026.4 M1018.1,941.8 V1026.4 M1027.2,941.8 V1055 M1057.2,946.8 V1055 M1074,887 V1070"/>
<line x1="111" y1="1019.7" x2="208.6" y2="1019.7" marker-start="url(#a)" marker-end="url(#a)"/>
<line x1="210.5" y1="1019.7" x2="378.9" y2="1019.7" marker-start="url(#a)" marker-end="url(#a)"/>
<line x1="396.1" y1="1019.7" x2="479.1" y2="1019.7" marker-start="url(#a)" marker-end="url(#a)"/>
<line x1="490" y1="1019.7" x2="646.8" y2="1019.7" marker-start="url(#a)" marker-end="url(#a)"/>
<line x1="657.2" y1="1019.7" x2="917.2" y2="1019.7" marker-start="url(#a)" marker-end="url(#a)"/>
<line x1="927.2" y1="1019.7" x2="1018.1" y2="1019.7" marker-start="url(#a)" marker-end="url(#a)"/>
<line x1="111" y1="1035.1" x2="378.9" y2="1035.1" marker-start="url(#a)" marker-end="url(#a)"/>
<line x1="378.9" y1="1035.1" x2="786.3" y2="1035.1" marker-start="url(#a)" marker-end="url(#a)"/>
<line x1="786.3" y1="1035.1" x2="1027.2" y2="1035.1" marker-start="url(#a)" marker-end="url(#a)"/>
<line x1="67" y1="1047.5" x2="111" y2="1047.5" marker-start="url(#a)" marker-end="url(#a)"/>
<line x1="209.7" y1="1047.5" x2="786.3" y2="1047.5" marker-start="url(#a)" marker-end="url(#a)"/>
<line x1="1027.2" y1="1047.5" x2="1057.2" y2="1047.5" marker-start="url(#a)" marker-end="url(#a)"/>
<line x1="59.3" y1="1062" x2="1074" y2="1062" marker-start="url(#a)" marker-end="url(#a)"/>
<path d="M38.3,700.5 H302.3 M38.3,997 H179.9"/>
<line x1="41.3" y1="700.5" x2="41.3" y2="997" marker-start="url(#a)" marker-end="url(#a)"/>
<path d="M1033,705.4 H1118 M883.1,997 H1118"/>
<line x1="1115.8" y1="705.4" x2="1115.8" y2="997" marker-start="url(#a)" marker-end="url(#a)"/>
<line x1="657.2" y1="729" x2="657.2" y2="752.7"/><line x1="780.9" y1="729" x2="780.9" y2="752.7"/>
<line x1="792.2" y1="729" x2="792.2" y2="752.7"/><line x1="916.3" y1="729" x2="916.3" y2="752.7"/>
<line x1="657.2" y1="737" x2="780.9" y2="737" marker-start="url(#a)" marker-end="url(#a)"/>
<line x1="792.2" y1="737" x2="916.3" y2="737" marker-start="url(#a)" marker-end="url(#a)"/>
</g>
<text class="d" x="719.5" y="741">51.00</text>
<text class="d" x="854.5" y="741">51.00</text>
<text class="d" x="160.7" y="1023.7">40.00</text>
<text class="d" x="300.4" y="1023.7">69.50</text>
<text class="d" x="436.3" y="1023.7">34.00</text>
<text class="d" x="568.2" y="1023.7">64.00</text>
<text class="d" x="755" y="1023.7">106.00</text>
<text class="d" x="973" y="1023.7">37.00</text>
<text class="d" x="245.7" y="1039.1">109.50</text>
<text class="d" x="584" y="1039.1" textLength="70.5" lengthAdjust="spacingAndGlyphs">166.50 (C/A)</text>
<text class="d" x="914" y="1039.1">98.00</text>
<text class="d" x="133" y="1051.5">18.00</text>
<text class="d" x="511" y="1051.5" textLength="126" lengthAdjust="spacingAndGlyphs">236.00" (WHEEL BASE)</text>
<text class="d" x="1005" y="1051.5">12.00</text>
<text class="d" x="468" y="1066" textLength="148" lengthAdjust="spacingAndGlyphs">34'-6⅛" OVERALL LENGTH</text>
<text class="d" x="41.3" y="775" textLength="33" lengthAdjust="spacingAndGlyphs">121.25</text>
<text class="d" x="41.7" y="801" textLength="75.8" lengthAdjust="spacingAndGlyphs">[10'-1 1/4"]*</text>
<text class="d" x="1115" y="821" textLength="33.6" lengthAdjust="spacingAndGlyphs">119.25</text>
<text class="d" x="1115.3" y="848" textLength="76.3" lengthAdjust="spacingAndGlyphs">[9'-11 1/4"]*</text>

<!-- ===================== REAR VIEW ===================== -->
<g class="k">
<rect x="1217.3" y="998.9" width="246.2" height="5.4"/>
<rect x="1242.6" y="705" width="189.1" height="46.1"/>
<rect x="1242.6" y="705" width="7" height="46.1" rx="2"/><rect x="1431" y="705" width="7" height="46.1" rx="2"/>
<circle cx="1246" cy="711" r="1.8" fill="#f00" stroke="none"/><circle cx="1434.5" cy="711" r="1.8" fill="#f00" stroke="none"/>
<path d="M1250,711.5 H1377 M1263.8,711.5 V748 M1351,711.5 V748 M1377,705 V751"/>
<path d="M1240,712 V745 M1438,712 V745" stroke="#f00" stroke-width="2"/>
<rect x="1218.6" y="734.5" width="23.2" height="8.5" rx="3"/>
<rect x="1438.7" y="713" width="23.3" height="48.8"/>
<line x1="1438.7" y1="737.7" x2="1462" y2="737.7" stroke="#d9a46a" stroke-width="1.5"/>
<rect x="1218.6" y="743" width="244.1" height="199.7"/>
<rect x="1252" y="756.5" width="177" height="4" rx="1.5"/>
<rect x="1228.9" y="749.8" width="3.9" height="34.8" rx="1.8" fill="#2c2"/>
<rect x="1252.1" y="767.2" width="24.6" height="15.5" rx="4" fill="#e8141c"/>
<rect x="1279.8" y="767.2" width="24.8" height="15.5" rx="5" stroke-width="2.5"/>
<rect x="1308.2" y="773.9" width="20.2" height="14.7"/>
<rect x="1352.4" y="773.9" width="20.4" height="14.7"/>
<rect x="1376.2" y="767.2" width="25" height="15.5" rx="5" stroke-width="2.5"/>
<rect x="1403.3" y="767.2" width="25.1" height="15.5" rx="4" fill="#e8141c"/>
<rect x="1244.5" y="783.3" width="3.4" height="97.7" rx="1.7"/>
<rect x="1432.6" y="783.3" width="3.4" height="97.7" rx="1.7"/>
<rect x="1254.7" y="808.7" width="171.9" height="5.3"/>
<path d="M1256,814 V831.5 H1260 V814 M1320,814 V831.5 H1324 V814 M1360,814 V831.5 H1364 V814 M1420,814 V831.5 H1424 V814"/>
<rect x="1334" y="818" width="12" height="8" stroke-width="1.5"/>
<circle cx="1298.7" cy="835.5" r="8"/><circle cx="1298.7" cy="835.5" r="4.5"/>
<circle cx="1382.1" cy="835.5" r="8"/><circle cx="1382.1" cy="835.5" r="4.5"/>
<rect x="1315.5" y="835.5" width="49.1" height="68.3"/><rect x="1318" y="838" width="44" height="63.3"/>
<path d="M1324,903 V867 Q1324,864 1330,864 H1354 Q1360,864 1360,870 V903 M1328,870 H1356 M1340,864 V840 M1345,864 V843"/>
<circle cx="1348" cy="846" r="3.5"/>
<path d="M1321,897 H1366 M1330,903 V914 M1343,903 V914 M1356,903 Q1356,912 1345,915"/>
<rect x="1290.4" y="912.4" width="99.5" height="24.9"/>
<rect x="1251.4" y="852.4" width="20.1" height="16.1"/><rect x="1409.3" y="852.4" width="20.4" height="16.1"/>
<rect x="1227.6" y="858.3" width="6.4" height="9.3" rx="2"/><rect x="1446" y="858.3" width="6.4" height="9.3" rx="2"/>
<rect x="1252" y="877" width="17" height="25.5" rx="4"/><rect x="1411" y="877" width="17" height="25.5" rx="4"/>
<path d="M1263,896 H1316 V902 M1265,902 V917 H1318"/>
<rect x="1284" y="877" width="31" height="15" rx="2"/>
<rect x="1221.9" y="874.3" width="18.1" height="45.6" rx="4" fill="#000"/>
<rect x="1223.5" y="877" width="15" height="9" rx="2" fill="#e8141c" stroke="none"/>
<ellipse cx="1231" cy="901" rx="6.5" ry="4.5" fill="#f08a1c" stroke="none"/>
<rect x="1223.5" y="908" width="15" height="10" rx="2" fill="#e8141c" stroke="none"/>
<rect x="1440.8" y="874.3" width="18.1" height="45.6" rx="4" fill="#000"/>
<rect x="1442.4" y="877" width="15" height="9" rx="2" fill="#e8141c" stroke="none"/>
<ellipse cx="1450" cy="901" rx="6.5" ry="4.5" fill="#f08a1c" stroke="none"/>
<rect x="1442.4" y="908" width="15" height="10" rx="2" fill="#e8141c" stroke="none"/>
<rect x="1214.7" y="866" width="4" height="22" fill="#000"/><rect x="1462.7" y="866" width="3.5" height="22" fill="#000"/>
<path d="M1442,768 L1447,765 L1461,812 V842 H1439 V830 L1450,792 Z M1444,772 L1458,830 M1440,830 L1458,800 M1448,790 V842"/>
<rect x="1214.7" y="941.3" width="250.6" height="5.4"/>
<path d="M1218.6,946.7 V998.9 M1275.4,946.7 V990 M1245.7,990 V998.9 M1218.6,990 Q1218.6,998.9 1232,998.9 Q1245.7,998.9 1245.7,990 Q1245.7,998.9 1260,998.9 Q1275.4,998.9 1275.4,990 M1218.6,990 H1275.4"/>
<path d="M1405.4,946.7 V990 M1462.7,946.7 V998.9 M1433,990 V998.9 M1405.4,990 Q1405.4,998.9 1419,998.9 Q1433,998.9 1433,990 Q1433,998.9 1448,998.9 Q1462.7,998.9 1462.7,990 M1405.4,990 H1462.7"/>
<path d="M1275.4,950 H1405.4 M1312.9,946.7 Q1341,985 1369.7,946.7 M1320,946.7 A21,21 0 0 0 1362,946.7"/>
<rect x="1296" y="948" width="3" height="12"/><rect x="1382" y="948" width="3" height="12"/>
</g>
<g fill="#f00"><circle cx="1222" cy="944" r="1.8"/><circle cx="1328.5" cy="944" r="1.8"/><circle cx="1340.3" cy="944" r="1.8"/><circle cx="1353" cy="944" r="1.8"/><circle cx="1458.4" cy="944" r="1.8"/></g>
<rect x="1227" y="942.5" width="8" height="2.8" fill="#f88"/><rect x="1446" y="942.5" width="8" height="2.8" fill="#f88"/>
<g fill="none" stroke="#c9c92a" stroke-width="2">
<rect x="1378" y="714.5" width="50" height="8"/><rect x="1379" y="725" width="48" height="5"/><rect x="1379" y="732" width="48" height="5"/>
<path d="M1380,714 V738 M1426,714 V738"/>
<circle cx="1363.3" cy="739.9" r="9.5"/><circle cx="1363.3" cy="739.9" r="6"/>
<circle cx="1450.3" cy="725.7" r="9.5"/><circle cx="1450.3" cy="725.7" r="6.5"/>
<circle cx="1450.3" cy="749.2" r="9.5"/><circle cx="1450.3" cy="749.2" r="6.5"/>
<path d="M1380,742 V750 M1385,742 V750 M1391,740 Q1396,745 1391,750 M1396,744 H1404"/>
</g>
<g class="r">
<path d="M1250.1,668 V704.2 M1430.4,668 V704.2"/>
<line x1="1250.1" y1="675.3" x2="1430.4" y2="675.3" marker-start="url(#a)" marker-end="url(#a)"/>
<path d="M1187.5,705.6 H1240.5 M1187.5,751.1 H1248.3 M1187.5,998.9 H1214.7"/>
<line x1="1194.5" y1="705.6" x2="1194.5" y2="751.1" marker-start="url(#a)" marker-end="url(#a)"/>
<line x1="1194.5" y1="751.1" x2="1194.5" y2="998.9" marker-start="url(#a)" marker-end="url(#a)"/>
<path d="M1214.7,1004 V1024 M1465.3,1004 V1024"/>
<line x1="1214.7" y1="1015.8" x2="1465.3" y2="1015.8" marker-start="url(#a)" marker-end="url(#a)"/>
<path d="M1438,751.1 H1509.3 M1364.6,773.3 H1509.3 M1421.4,808.2 H1509.3 M1421.4,852.4 H1509.3 M1424,896.6 H1509.3 M1465,941.3 H1509.3 M1501.5,741.7 H1509"/>
<line x1="1501.5" y1="741.7" x2="1501.5" y2="751.1"/>
<line x1="1501.5" y1="751.1" x2="1501.5" y2="773.3" marker-start="url(#a)" marker-end="url(#a)"/>
<line x1="1501.5" y1="773.3" x2="1501.5" y2="808.2" marker-start="url(#a)" marker-end="url(#a)"/>
<line x1="1501.5" y1="808.2" x2="1501.5" y2="852.4" marker-start="url(#a)" marker-end="url(#a)"/>
<line x1="1501.5" y1="852.4" x2="1501.5" y2="896.6" marker-start="url(#a)" marker-end="url(#a)"/>
<line x1="1501.5" y1="896.6" x2="1501.5" y2="941.3" marker-start="url(#a)" marker-end="url(#a)"/>
</g>
<text class="d" x="1340.8" y="679.6" font-size="12" textLength="28.4" lengthAdjust="spacingAndGlyphs">73.50</text>
<text class="d" x="1340.8" y="1020" font-size="12" textLength="31.5" lengthAdjust="spacingAndGlyphs">102.00</text>
<text class="d" x="1194.5" y="733.5" font-size="11.5">18.75</text>
<text class="d" x="1194.5" y="831" font-size="11.5">100.50</text>
<text class="ds" x="1522" y="748" font-size="11.5">9.00</text>
<text class="d" x="1501.5" y="796" font-size="11.5">14.00</text>
<text class="d" x="1501.5" y="835" font-size="11.5">18.00</text>
<text class="d" x="1501.5" y="879.5" font-size="11.5">18.00</text>
<text class="d" x="1501.5" y="923.5" font-size="11.5">18.00</text>
<g fill="#f00" font-weight="bold" font-size="8.6">
<text x="1441" y="676.5" textLength="51" lengthAdjust="spacingAndGlyphs">CARGO NET</text>
<text x="1441" y="686.4" textLength="93.8" lengthAdjust="spacingAndGlyphs">BUCKETS 2 EA. SIDE</text>
<text x="1441" y="696.3" textLength="77" lengthAdjust="spacingAndGlyphs">(OVER LADDERS,</text>
<text x="1441" y="706.2" textLength="70" lengthAdjust="spacingAndGlyphs">UNDER COVER)</text>
</g>
<text x="1340.8" y="807" fill="#f00" font-weight="bold" font-size="9" text-anchor="middle" textLength="140.8" lengthAdjust="spacingAndGlyphs">HAND HOLES IN TOP SURFACE</text>
<text x="1344" y="925.5" fill="#f00" font-size="5.8" text-anchor="middle">BOOSTER REEL</text>
<text x="1344" y="932.6" fill="#f00" font-size="5.8" text-anchor="middle">100' OF 1"</text>
<text x="1277.5" y="1068.4" font-size="8.6" font-weight="bold" fill="#000" textLength="279.7" lengthAdjust="spacingAndGlyphs">*HEIGHT COULD VARY +/- 2" BASED ON LOADING OF VEHICLE</text>
</svg>
</body></html>
